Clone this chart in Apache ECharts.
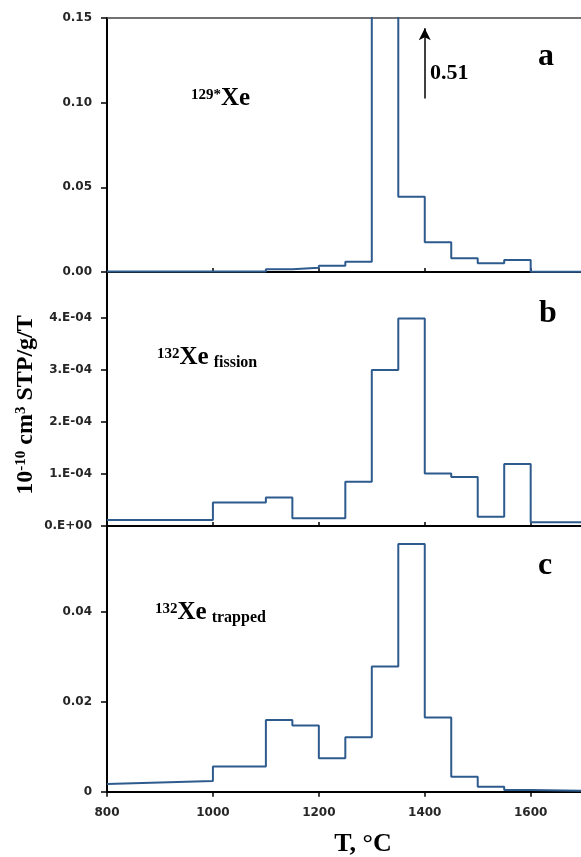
<!DOCTYPE html>
<html><head><meta charset="utf-8">
<script src="https://cdn.jsdelivr.net/npm/echarts@6/dist/echarts.min.js"></script>
<style>html,body{margin:0;padding:0;background:#fff}#c{width:581px;height:857px}</style>
</head><body><div id="c"></div>
<script>
// ---- data ----
const binEdges = [800,1000,1100,1150,1200,1250,1300,1350,1400,1450,1500,1550,1600,1700];
const xe129Values = [0.0003,0.0003,0.0016,0.0025,0.0037,0.0060,0.51,0.0445,0.0175,0.0081,0.0051,0.0071,0.0002];
const xe132FissionValues = [1.15e-5,4.5e-5,5.5e-5,1.5e-5,1.5e-5,8.5e-5,3.0e-4,3.99e-4,1.01e-4,9.4e-5,1.8e-5,1.19e-4,7e-6];
const xe132TrappedStart = 0.0017;
const xe132TrappedValues = [0.0024,0.0056,0.0159,0.0147,0.0074,0.0121,0.0278,0.055,0.0165,0.0033,0.0011,0.0004,0.0002];
const xTickValues = [800,1000,1200,1400,1600];
const xTickLabels = ['800','1000','1200','1400','1600'];
const yTickLabelsA = ['0.00','0.05','0.10','0.15'];
const yTickLabelsB = ['0.E+00','1.E-04','2.E-04','3.E-04','4.E-04'];
const yTickLabelsC = ['0','0.02','0.04'];

function steps(edges, vals, start){
  const pts = [];
  for (let i = 0; i < vals.length; i++) {
    pts.push([edges[i], (i === 0 && start != null) ? start : vals[i]]);
    pts.push([edges[i+1], vals[i]]);
  }
  return pts;
}

const chart = echarts.init(document.getElementById('c'), null, {renderer:'canvas'});
const lineColor = '#2E5B8E';
const lblFont = {fontFamily:'DejaVu Sans', fontWeight:'bold', fontSize:12, color:'#262626'};
const L = 107;
const X_MAX = 1695; // visible right edge of the (cropped) plot
const grids = [
  {left:L, right:0, top:18, height:254},
  {left:L, right:0, top:272, height:254},
  {left:L, right:0, top:526, height:265.7}
];
function xAx(i, showLabels){
  return {
    type:'value', gridIndex:i, min:800, max:X_MAX, interval:200,
    axisLine:{show:true, onZero:false, lineStyle:{color:'#000', width:2}},
    axisTick:{show:true, customValues:xTickValues, inside:!showLabels, length:showLabels?5:4, lineStyle:{color:'#000', width:1.5}},
    axisLabel:Object.assign({show:showLabels, customValues:xTickValues, margin:15,
      formatter:v => { const k = xTickValues.indexOf(v); return k>=0 ? xTickLabels[k] : ''; }}, lblFont),
    splitLine:{show:false}
  };
}
function yAx(i, max, interval, labels){
  return {
    type:'value', gridIndex:i, min:0, max:max, interval:interval,
    axisLine:{show:true, lineStyle:{color:'#000', width:2}},
    axisTick:{show:true, length:6, lineStyle:{color:'#000', width:1.5}},
    axisLabel:Object.assign({margin:15, showMaxLabel: labels.length*interval > max + 1e-12 ? true : false,
      formatter:v => { const k = Math.round(v/interval); return (Math.abs(k*interval - v) < interval*1e-6 && labels[k]) ? labels[k] : ''; }}, lblFont),
    splitLine:{show:false}
  };
}
const serif = 'Liberation Serif';
function txt(x, y, rich, text){
  return {type:'text', x:x, y:y, style:{text:text, rich:rich, fontFamily:serif, fontWeight:'bold', fill:'#000', align:'left', verticalAlign:'middle'}};
}
const supRich = {
  sup:{fontFamily:serif, fontWeight:'bold', fontSize:15, lineHeight:26, verticalAlign:'top', padding:[2,0,0,0]},
  main:{fontFamily:serif, fontWeight:'bold', fontSize:25, lineHeight:26},
  sub:{fontFamily:serif, fontWeight:'bold', fontSize:16, lineHeight:26, verticalAlign:'bottom', padding:[0,0,0,5]}
};
const option = {
  animation:false,
  backgroundColor:'#fff',
  grid:grids,
  xAxis:[xAx(0,false), xAx(1,false), xAx(2,true),
    {type:'value', gridIndex:0, position:'top', min:800, max:X_MAX,
     axisLine:{show:true, onZero:false, lineStyle:{color:'#444', width:1.5}}, axisTick:{show:false}, axisLabel:{show:false}, splitLine:{show:false}}],
  yAxis:[
    yAx(0, 0.15, 0.05, yTickLabelsA),
    yAx(1, 4.885e-4, 1e-4, yTickLabelsB),
    yAx(2, 0.059, 0.02, yTickLabelsC)
  ],
  series:[
    {type:'line', xAxisIndex:0, yAxisIndex:0, data:steps(binEdges, xe129Values), showSymbol:false, clip:true,
     lineStyle:{color:lineColor, width:2}, z:3,
     markLine:{silent:true, symbol:['none','arrow'], symbolSize:[9,12], label:{show:false},
       lineStyle:{color:'#000', width:1.5, type:'solid'},
       data:[[{coord:[1400,0.1025]},{coord:[1400,0.144]}]]}},
    {type:'line', xAxisIndex:1, yAxisIndex:1, data:steps(binEdges, xe132FissionValues), showSymbol:false, clip:true,
     lineStyle:{color:lineColor, width:2}, z:3},
    {type:'line', xAxisIndex:2, yAxisIndex:2, data:steps(binEdges, xe132TrappedValues, xe132TrappedStart), showSymbol:false, clip:true,
     lineStyle:{color:lineColor, width:2}, z:3}
  ],
  graphic:[
    txt(191, 99, supRich, '{sup|129*}{main|Xe}'),
    txt(157, 358, supRich, '{sup|132}{main|Xe}{sub|fission}'),
    txt(155, 613, supRich, '{sup|132}{main|Xe}{sub|trapped}'),
    {type:'text', x:538, y:57, style:{text:'a', font:'bold 32px "Liberation Serif"', fill:'#000', verticalAlign:'middle'}},
    {type:'text', x:539, y:314, style:{text:'b', font:'bold 32px "Liberation Serif"', fill:'#000', verticalAlign:'middle'}},
    {type:'text', x:538, y:566, style:{text:'c', font:'bold 32px "Liberation Serif"', fill:'#000', verticalAlign:'middle'}},
    {type:'text', x:430, y:73, style:{text:String(Math.max.apply(null, xe129Values)), font:'bold 22px "Liberation Serif"', fill:'#000', verticalAlign:'middle'}},
    {type:'text', x:363, y:844, style:{text:'T, °C', font:'bold 26px "Liberation Serif"', fill:'#000', align:'center', verticalAlign:'middle'}},
    {type:'text', x:26, y:405, rotation:Math.PI/2, style:{
      text:'{m|10}{s|-10}{m| cm}{s|3}{m| STP/g/T}', align:'center', verticalAlign:'middle', fill:'#000',
      rich:{
        m:{fontFamily:serif, fontWeight:'bold', fontSize:24, lineHeight:26},
        s:{fontFamily:serif, fontWeight:'bold', fontSize:15, lineHeight:26, verticalAlign:'top', padding:[1,0,0,0]}
      }}}
  ]
};
chart.setOption(option);
</script>
</body></html>
